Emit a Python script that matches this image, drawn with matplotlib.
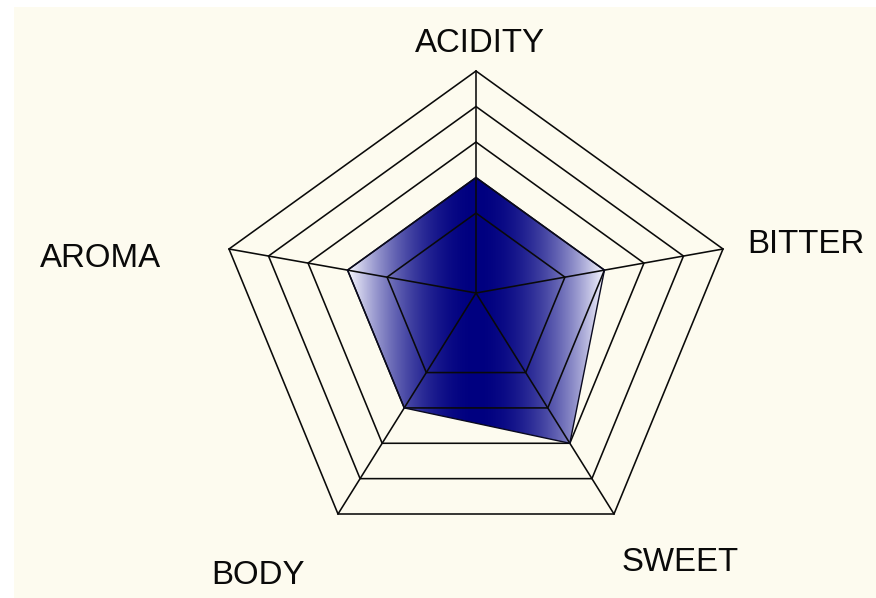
import numpy as np
import matplotlib
matplotlib.use("Agg")
import matplotlib.pyplot as plt
from matplotlib.patches import Polygon, Rectangle

# ---- data ----
categories = ["ACIDITY", "BITTER", "SWEET", "BODY", "AROMA"]
values = [2, 2, 3, 2, 2]
ring_levels = [1, 2, 3, 4, 5]
scale_min = -1.25   # value at the centre of the chart
scale_max = 5

# ---- layout (pixel space) ----
W, H = 876, 598
cx, cy = 476, 293
# outer-ring vertex offsets for each axis (the chart is drawn with a perspective-like skew)
axis_dx = [0, 247, 138, -138, -247]
axis_dy = [-222, -44, 221, 221, -44]
label_pos = [(480, 52), (805.5, 253), (680, 571), (258, 584), (100, 267)]

bg = "#FDFBEF"
navy = np.array([0, 0, 128]) / 255.0

fig = plt.figure(figsize=(W / 100, H / 100), dpi=100)
fig.patch.set_facecolor("white")
ax = fig.add_axes([0, 0, 1, 1])
ax.set_xlim(0, W)
ax.set_ylim(H, 0)
ax.axis("off")
ax.add_patch(Rectangle((14, 7), W - 14, H - 7, facecolor=bg, edgecolor="none", zorder=0))


def frac(v):
    return (v - scale_min) / (scale_max - scale_min)


def pts(vals):
    return np.array([[cx + frac(v) * dx, cy + frac(v) * dy]
                     for v, dx, dy in zip(vals, axis_dx, axis_dy)])


# data polygon with a horizontal reflected gradient
dp = pts(values)
poly = Polygon(dp, closed=True, facecolor="none", edgecolor="none", zorder=2)
ax.add_patch(poly)
x0, x1 = dp[:, 0].min(), dp[:, 0].max()
y0, y1 = dp[:, 1].min(), dp[:, 1].max()
xs = np.linspace(x0, x1, 400)
xc, hw = (x0 + x1) / 2, (x1 - x0) / 2
t = np.clip(np.abs(xs - xc) / hw, 0, 1) ** 2
col = navy[None, :] * (1 - t[:, None]) + np.array([0.97, 0.97, 1.0])[None, :] * t[:, None]
img = np.repeat(col[None, :, :], 50, axis=0)
im = ax.imshow(img, extent=[x0, x1, y1, y0], aspect="auto", zorder=2, interpolation="bilinear")
im.set_clip_path(poly)
ax.set_xlim(0, W)
ax.set_ylim(H, 0)

# grid rings
for lv in ring_levels:
    rp = pts([lv] * len(categories))
    ax.add_patch(Polygon(rp, closed=True, facecolor="none", edgecolor="#0a0a0a", lw=1.15, zorder=3))
# spokes
outer = pts([scale_max] * len(categories))
for (px, py) in outer:
    ax.plot([cx, px], [cy, py], color="#0a0a0a", lw=1.15, zorder=3)

# data outline
ax.add_patch(Polygon(dp, closed=True, facecolor="none", edgecolor="#0a0a20", lw=1.0, zorder=3))

for name, (lx, ly) in zip(categories, label_pos):
    ax.text(lx, ly, name, ha="center", va="baseline", fontsize=23.8,
            family=["Liberation Sans", "DejaVu Sans"], color="#0a0a0a", zorder=4)

fig.savefig("out.png", dpi=100, facecolor=fig.get_facecolor())
